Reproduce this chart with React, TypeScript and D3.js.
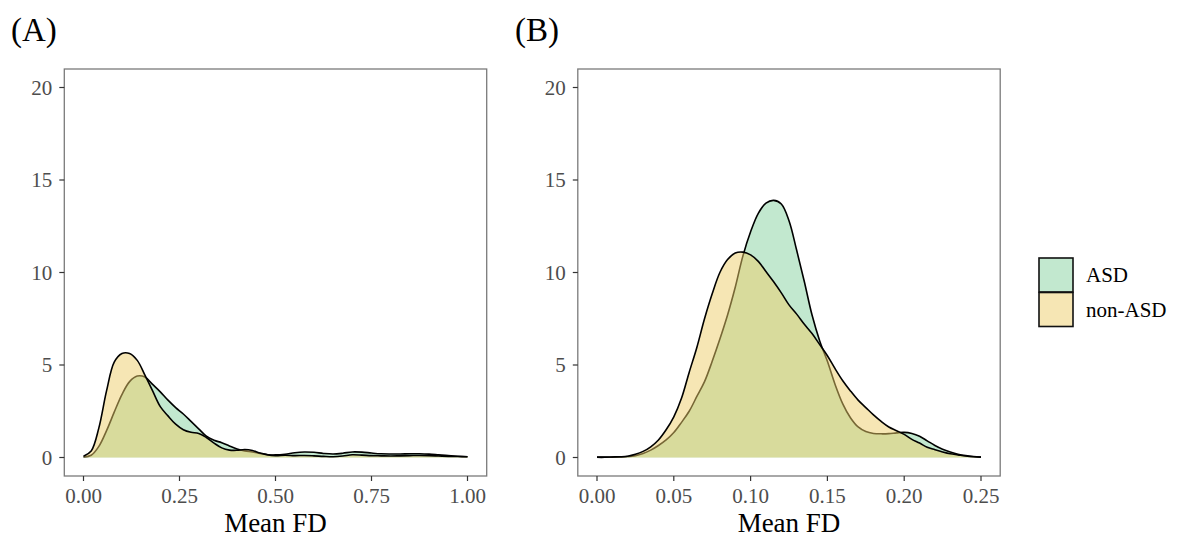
import React, { useEffect, useRef } from 'react';
import * as d3 from 'd3';

// groups, drawn in this order (non-ASD on top)
const groups = ['ASD', 'non-ASD'];
const fills = ['#85D19F', '#EDCD69'];

// panel A: mean FD, full range
const fdA = [0, 0.02, 0.04, 0.06, 0.08, 0.1, 0.12, 0.14, 0.16, 0.18, 0.2, 0.22, 0.24, 0.26, 0.28, 0.3,
  0.32, 0.34, 0.36, 0.38, 0.4, 0.42, 0.44, 0.46, 0.48, 0.5, 0.525, 0.55, 0.575, 0.6, 0.625, 0.65,
  0.675, 0.7, 0.725, 0.75, 0.775, 0.8, 0.825, 0.85, 0.875, 0.9, 0.925, 0.95, 0.975, 1];
const asdA = [0.03, 0.12, 0.6, 1.45, 2.45, 3.4, 4.1, 4.4, 4.35, 3.95, 3.55, 3.1, 2.7, 2.35, 1.95, 1.55,
  1.15, 0.93, 0.8, 0.62, 0.46, 0.36, 0.3, 0.22, 0.15, 0.14, 0.18, 0.26, 0.3, 0.28, 0.22, 0.19,
  0.23, 0.3, 0.29, 0.24, 0.2, 0.19, 0.19, 0.2, 0.2, 0.18, 0.14, 0.1, 0.07, 0.04];
const nonA = [0.07, 0.35, 1.6, 3.6, 5.15, 5.62, 5.62, 5.25, 4.45, 3.6, 2.75, 2.25, 1.8, 1.5, 1.36, 1.3,
  1.08, 0.78, 0.52, 0.4, 0.39, 0.43, 0.38, 0.24, 0.14, 0.1, 0.12, 0.1, 0.11, 0.09, 0.06, 0.04,
  0.08, 0.15, 0.13, 0.1, 0.09, 0.08, 0.09, 0.1, 0.11, 0.1, 0.08, 0.06, 0.05, 0.04];

// panel B: mean FD, restricted range
const fdB = [0, 0.005, 0.01, 0.015, 0.02, 0.025, 0.03, 0.035, 0.04, 0.045, 0.05, 0.055, 0.06, 0.065,
  0.07, 0.075, 0.08, 0.085, 0.09, 0.095, 0.1, 0.105, 0.11, 0.115, 0.12, 0.125, 0.13, 0.135, 0.14,
  0.145, 0.15, 0.155, 0.16, 0.165, 0.17, 0.175, 0.18, 0.185, 0.19, 0.195, 0.2, 0.205, 0.21, 0.215,
  0.22, 0.225, 0.23, 0.235, 0.24, 0.245, 0.25];
const asdB = [0.01, 0.01, 0.02, 0.03, 0.05, 0.1, 0.22, 0.4, 0.65, 0.95, 1.35, 1.9, 2.5, 3.3,
  4.1, 5.2, 6.4, 7.7, 9.2, 10.9, 12.2, 13.2, 13.75, 13.9, 13.7, 12.8, 11.2, 9.5, 7.7,
  6.3, 5.2, 3.95, 2.9, 2.15, 1.65, 1.4, 1.3, 1.28, 1.29, 1.33, 1.36, 1.3, 1.15, 0.9,
  0.65, 0.45, 0.3, 0.18, 0.1, 0.05, 0.02];
const nonB = [0.02, 0.02, 0.03, 0.04, 0.07, 0.17, 0.33, 0.58, 0.95, 1.5, 2.2, 3.2, 4.6, 5.95,
  7.5, 8.85, 10.0, 10.7, 11.05, 11.1, 10.95, 10.6, 10.05, 9.5, 8.9, 8.25, 7.75, 7.2, 6.7,
  6.1, 5.5, 4.8, 4.15, 3.6, 3.1, 2.7, 2.3, 1.95, 1.65, 1.45, 1.25, 0.98, 0.78, 0.55,
  0.42, 0.3, 0.2, 0.14, 0.08, 0.04, 0.02];

const yTicks = [0, 5, 10, 15, 20];
const xTicksA = [0, 0.25, 0.5, 0.75, 1];
const xTicksB = [0, 0.05, 0.1, 0.15, 0.2, 0.25];

const FONT = '"Liberation Serif", "Times New Roman", serif';

const App = () => {
  const svgRef = useRef<SVGSVGElement>(null);

  useEffect(() => {
    const svg = d3.select(svgRef.current);
    svg.selectAll('*').remove();

    const top = 69;
    const bottom = 476;

    const yScale = d3.scaleLinear().domain([-1, 21]).range([bottom, top]);
    const curve = d3.curveCatmullRom.alpha(0.5);

    const drawPanel = (
      left: number,
      right: number,
      xmax: number,
      fd: number[],
      series: number[][],
      xTicks: number[],
      tag: string,
      tagX: number
    ) => {
      const pad = xmax * 0.05;
      const xScale = d3.scaleLinear().domain([-pad, xmax + pad]).range([left, right]);
      const g = svg.append('g');

      // density areas, fill then outline (upper only)
      series.forEach((vals, i) => {
        const pts = fd.map((x, j) => [x, vals[j]] as [number, number]);
        const area = d3.area<[number, number]>()
          .x(d => xScale(d[0]))
          .y0(yScale(0))
          .y1(d => yScale(d[1]))
          .curve(curve);
        const line = d3.line<[number, number]>()
          .x(d => xScale(d[0]))
          .y(d => yScale(d[1]))
          .curve(curve);
        g.append('path')
          .attr('d', area(pts))
          .attr('fill', fills[i])
          .attr('fill-opacity', 0.5);
        g.append('path')
          .attr('d', line(pts))
          .attr('fill', 'none')
          .attr('stroke', '#000')
          .attr('stroke-width', 1.6);
      });

      // panel border
      g.append('rect')
        .attr('x', left)
        .attr('y', top)
        .attr('width', right - left)
        .attr('height', bottom - top)
        .attr('fill', 'none')
        .attr('stroke', '#7a7a7a')
        .attr('stroke-width', 1.3);

      // y axis
      yTicks.forEach(t => {
        g.append('line')
          .attr('x1', left - 5).attr('x2', left)
          .attr('y1', yScale(t)).attr('y2', yScale(t))
          .attr('stroke', '#333').attr('stroke-width', 1.2);
        g.append('text')
          .attr('x', left - 12)
          .attr('y', yScale(t))
          .attr('dy', '0.35em')
          .attr('text-anchor', 'end')
          .attr('font-family', FONT)
          .attr('font-size', 21)
          .attr('fill', '#4d4d4d')
          .text(t);
      });

      // x axis
      xTicks.forEach(t => {
        g.append('line')
          .attr('x1', xScale(t)).attr('x2', xScale(t))
          .attr('y1', bottom).attr('y2', bottom + 5)
          .attr('stroke', '#333').attr('stroke-width', 1.2);
        g.append('text')
          .attr('x', xScale(t))
          .attr('y', 503)
          .attr('text-anchor', 'middle')
          .attr('font-family', FONT)
          .attr('font-size', 21)
          .attr('fill', '#4d4d4d')
          .text(d3.format('.2f')(t));
      });

      g.append('text')
        .attr('x', (left + right) / 2)
        .attr('y', 532)
        .attr('text-anchor', 'middle')
        .attr('font-family', FONT)
        .attr('font-size', 27)
        .attr('fill', '#000')
        .text('Mean FD');

      svg.append('text')
        .attr('x', tagX)
        .attr('y', 41)
        .attr('font-family', FONT)
        .attr('font-size', 33)
        .attr('fill', '#000')
        .text(tag);
    };

    drawPanel(64.3, 486.7, 1, fdA, [asdA, nonA], xTicksA, '(A)', 11);
    drawPanel(577.8, 1000.2, 0.25, fdB, [asdB, nonB], xTicksB, '(B)', 515);

    // legend
    const legend = svg.append('g');
    groups.forEach((name, i) => {
      const y = 258 + i * 34.5;
      legend.append('rect')
        .attr('x', 1039)
        .attr('y', y)
        .attr('width', 34)
        .attr('height', 34)
        .attr('fill', fills[i])
        .attr('fill-opacity', 0.5)
        .attr('stroke', '#111')
        .attr('stroke-width', 1.6);
      legend.append('text')
        .attr('x', 1086)
        .attr('y', y + 17)
        .attr('dy', '0.35em')
        .attr('font-family', FONT)
        .attr('font-size', 21)
        .attr('fill', '#000')
        .text(name);
    });
  }, []);

  return (
    <svg
      ref={svgRef}
      width={1184}
      height={540}
      style={{ position: 'absolute', left: 0, top: 0, background: '#fff' }}
    />
  );
};

export default App;
